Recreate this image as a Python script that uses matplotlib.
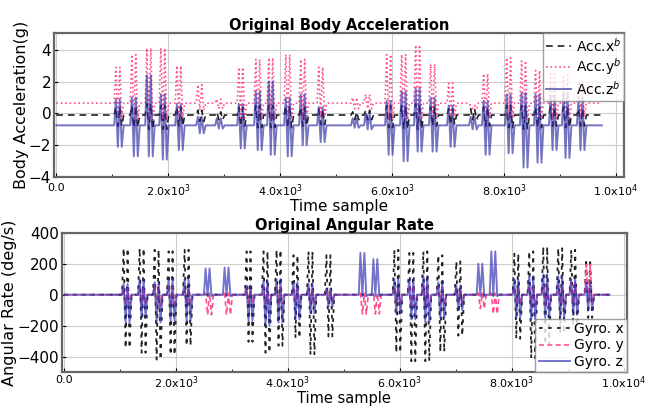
import matplotlib
matplotlib.use('Agg')
import matplotlib.pyplot as plt

# burst times (sample index), shared by both sensors
eventTimes = [1125, 1411, 1679, 1929, 2215, 2590, 2929, 3322, 3625, 3858, 4161, 4429, 4750, 5357,
              5589, 5964, 6232, 6482, 6750, 7072, 7465, 7697, 8108, 8375, 8625, 8893, 9125, 9393]
traceEnd = 9750

# body acceleration (g): resting level, burst peaks and troughs
accXBase = -0.1
accXHigh = [0.4, 0.5, 0.6, 0.5, 0.4, 0.2, 0.1, 0.4, 0.5, 0.5, 0.5, 0.4, 0.3, 0.1,
            0.2, 0.5, 0.5, 0.6, 0.4, 0.3, 0.3, 0.4, 0.5, 0.5, 0.4, 0.4, 0.4, 0.3]
accXLow = [-0.8, -0.9, -1.0, -1.0, -0.8, -0.5, -0.4, -0.8, -0.9, -0.9, -0.9, -0.8, -0.7, -0.4,
           -0.4, -0.9, -1.0, -1.0, -0.8, -0.7, -0.4, -0.8, -0.9, -1.0, -0.9, -0.8, -0.9, -0.8]
accYBase = 0.65
accYHigh = [2.9, 3.7, 4.1, 4.1, 3.0, 1.8, 0.9, 2.9, 3.4, 3.5, 3.7, 3.4, 2.9, 1.0,
            1.2, 3.7, 3.7, 4.3, 3.1, 1.9, 0.5, 2.5, 3.5, 3.3, 2.7, 2.5, 2.4, 2.0]
accYLow = [-0.3, -0.4, -0.4, -0.4, -0.3, 0.2, 0.3, -0.3, -0.3, -0.4, -0.4, -0.3, -0.2, 0.3,
           0.3, -0.4, -0.4, -0.4, -0.3, -0.2, 0.3, -0.3, -0.3, -0.4, -0.3, -0.3, -0.3, -0.2]
accZBase = -0.75
accZHigh = [0.9, 1.0, 2.4, 1.2, 0.6, -0.2, -0.3, 0.6, 1.4, 2.0, 1.0, 1.2, 0.4, -0.3,
            0.0, 0.8, 1.4, 1.6, 1.0, 0.5, -0.2, 0.8, 1.2, 1.3, 1.2, 1.1, 1.3, 1.0]
accZLow = [-2.1, -2.7, -2.7, -2.9, -2.3, -1.25, -0.95, -2.2, -2.3, -2.6, -2.7, -2.0, -1.8, -0.9,
           -1.0, -2.6, -3.0, -2.4, -2.4, -2.1, -1.0, -2.6, -2.5, -3.4, -3.1, -2.3, -2.8, -2.3]

# angular rate (deg/s)
gyroBase = 0.0
gyroXHigh = [300, 300, 290, 280, 290, 0, 0, 280, 280, 290, 255, 280, 255, 0,
             0, 290, 270, 280, 255, 215, 0, 0, 265, 280, 310, 300, 290, 230]
gyroXLow = [-345, -375, -420, -390, -330, 0, 0, -305, -375, -330, -280, -390, -270, 0,
            0, -375, -430, -430, -370, -265, 0, 0, -285, -410, -320, -250, -200, -150]
gyroYHigh = [40, 50, 60, 50, 40, 10, 10, 40, 50, 50, 40, 40, 30, 10,
             10, 50, 60, 60, 50, 40, 10, 10, 50, 60, 60, 60, 80, 195]
gyroYLow = [-60, -70, -70, -60, -60, -130, -130, -50, -60, -60, -50, -50, -40, -125,
            -125, -60, -70, -70, -60, -50, -90, -125, -60, -70, -70, -60, -60, -50]
gyroZHigh = [70, 100, 80, 100, 100, 170, 175, 60, 90, 100, 80, 70, 40, 270,
             230, 100, 100, 120, 80, 60, 200, 280, 100, 120, 130, 120, 100, 80]
gyroZLow = [-180, -150, -180, -170, -170, -10, -10, -170, -200, -180, -160, -120, -80, -10,
            -10, -120, -160, -180, -150, -100, -10, -10, -150, -160, -150, -150, -130, -100]

xTicks = [0, 2000, 4000, 6000, 8000, 10000]
xTickLabels = ['0.0', '2.0x10$^3$', '4.0x10$^3$', '6.0x10$^3$', '8.0x10$^3$', '1.0x10$^4$']


def burstTrace(base, highs, lows):
    # each burst swings between its peak and trough a couple of times
    x = [0]
    y = [base]
    for t, hi, lo in zip(eventTimes, highs, lows):
        x += [t - 90, t - 60, t - 25, t + 10, t + 45, t + 80]
        y += [base, hi, lo, hi, lo, base]
    x.append(traceEnd)
    y.append(base)
    return x, y


def styleAxes(ax, yTicks, xPad):
    ax.set_xticks(xTicks)
    ax.set_xticklabels(xTickLabels, fontsize=8)
    ax.set_xticks(range(1000, 10000, 2000), minor=True)
    ax.set_yticks(yTicks)
    ax.tick_params(axis='y', labelsize=11, direction='in', length=3, pad=2)
    ax.tick_params(axis='x', direction='in', length=3, pad=xPad)
    ax.tick_params(which='minor', direction='in', length=2)
    ax.grid(True, color='#cccccc', linewidth=0.8)
    ax.set_axisbelow(True)
    for s in ax.spines.values():
        s.set_color('#666666')
        s.set_linewidth(1.6)


fig = plt.figure(figsize=(6.51, 4.07), dpi=100)

ax1 = fig.add_axes([0.083, 0.565, 0.876, 0.354])
x, y = burstTrace(accXBase, accXHigh, accXLow)
ax1.plot(x, y, color='#222222', linestyle=(0, (4, 3)), linewidth=1.2, label='Acc.x$^b$')
x, y = burstTrace(accYBase, accYHigh, accYLow)
ax1.plot(x, y, color='#ff5090', linestyle=':', linewidth=1.2, label='Acc.y$^b$')
x, y = burstTrace(accZBase, accZHigh, accZLow)
ax1.plot(x, y, color='#2a2aa0', linewidth=1.4, alpha=0.65, label='Acc.z$^b$')
ax1.set_xlim(-40, 10150)
ax1.set_ylim(-4, 5.06)
styleAxes(ax1, [-4, -2, 0, 2, 4], 4)
ax1.set_title('Original Body Acceleration', fontsize=10.5, fontweight='bold', pad=2)
ax1.set_xlabel('Time sample', fontsize=11, labelpad=0)
ax1.set_ylabel('Body Acceleration(g)', fontsize=11.5, labelpad=0)
leg = ax1.legend(loc='upper right', fontsize=10, fancybox=False, handlelength=1.8,
                 borderpad=0.25, labelspacing=0.15, handletextpad=0.3, borderaxespad=0)
leg.get_frame().set_edgecolor('#888888')

ax2 = fig.add_axes([0.095, 0.086, 0.868, 0.342])
x, y = burstTrace(gyroBase, gyroXHigh, gyroXLow)
ax2.plot(x, y, color='#222222', linestyle=(0, (2, 3)), linewidth=1.3, label='Gyro. x')
x, y = burstTrace(gyroBase, gyroYHigh, gyroYLow)
ax2.plot(x, y, color='#ff5090', linestyle=(0, (3, 2)), linewidth=1.2, label='Gyro. y')
x, y = burstTrace(gyroBase, gyroZHigh, gyroZLow)
ax2.plot(x, y, color='#2a2ab0', linewidth=1.4, alpha=0.65, label='Gyro. z')
ax2.set_xlim(-40, 10060)
ax2.set_ylim(-500, 400)
styleAxes(ax2, [-400, -200, 0, 200, 400], 2)
ax2.set_title('Original Angular Rate', fontsize=10.5, fontweight='bold', pad=2)
ax2.set_xlabel('Time sample', fontsize=10.5, labelpad=0)
ax2.set_ylabel('Angular Rate (deg/s)', fontsize=11.5, labelpad=0)
leg = ax2.legend(loc='lower right', fontsize=10, fancybox=False, handlelength=2.2,
                 borderpad=0.25, labelspacing=0.15, handletextpad=0.3, borderaxespad=0)
leg.get_frame().set_edgecolor('#888888')

fig.savefig('out.png', dpi=100)
